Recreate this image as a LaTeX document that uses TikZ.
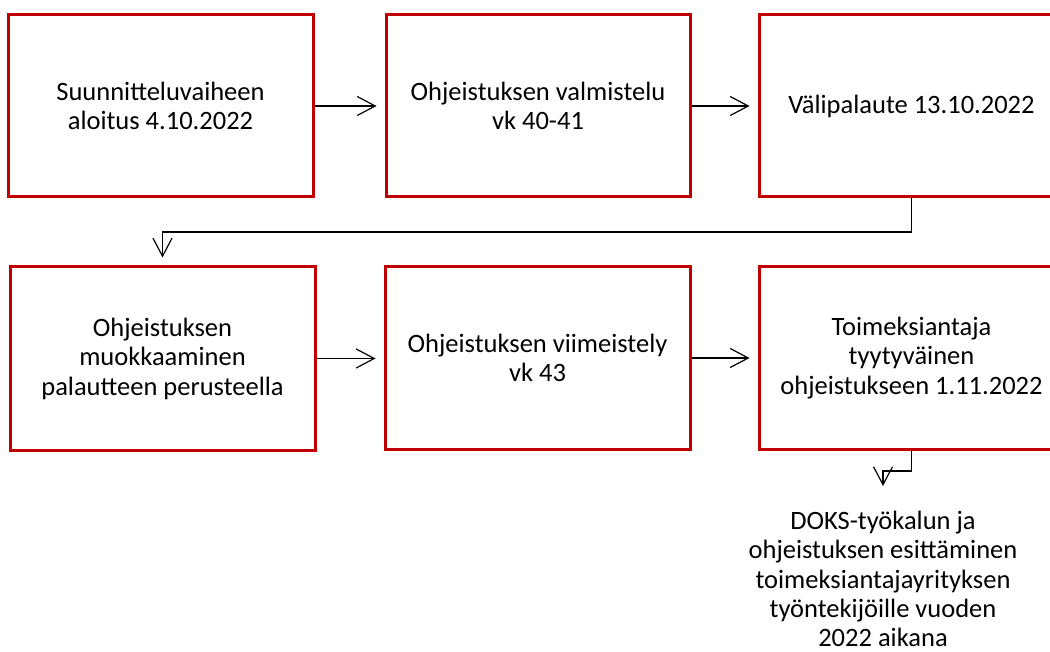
\documentclass[tikz,border=0pt]{standalone}
\usepackage{fontspec}
\setmainfont{Carlito}
\usetikzlibrary{arrows.meta}
\definecolor{boxred}{HTML}{C00000}
\tikzset{
  stepbox/.style={draw=boxred, line width=3pt, fill=white, rectangle, inner sep=0pt,
    minimum width=305pt, minimum height=182pt, align=center,
    font=\fontsize{26.5pt}{29.5pt}\selectfont},
  conn/.style={draw=black, line width=1.2pt, -{Straight Barb[length=18pt,width=19pt]}},
  plain/.style={align=center, inner sep=0pt, font=\fontsize{26.5pt}{29.3pt}\selectfont}
}
\begin{document}
\begin{tikzpicture}[x=1pt,y=-1pt]
\fill[white] (0,0) rectangle (1050,652);
\useasboundingbox (0,0) rectangle (1050,652);
\clip (0,0) rectangle (1050,652);
\node[stepbox] (b1) at (160.5,106) {Suunnitteluvaiheen\\aloitus 4.10.2022};
\node[stepbox, minimum width=304pt] (b2) at (538,106) {Ohjeistuksen valmistelu\\vk 40-41};
\node[stepbox] (b3) at (911.5,106) {Välipalaute 13.10.2022};
\node[stepbox, minimum height=183pt] (b4) at (162.5,358.5) {Ohjeistuksen\\muokkaaminen\\palautteen perusteella};
\node[stepbox] (b5) at (537.5,358) {Ohjeistuksen viimeistely\\vk 43};
\node[stepbox] (b6) at (911.5,358) {Toimeksiantaja\\tyytyväinen\\ohjeistukseen 1.11.2022};
\node[plain, anchor=north] (d) at (883,511) {DOKS-työkalun ja\\ohjeistuksen esittäminen\\toimeksiantajayrityksen\\työntekijöille vuoden\\2022 aikana};
\coordinate (h1) at (0,232);
\coordinate (h2) at (0,471);
\draw[conn, shorten >=8pt] (b1.east) -- (b2.west);
\draw[conn, shorten >=8pt] (b2.east) -- (b3.west);
\draw[conn, shorten >=8pt] (b4.east) -- (b5.west |- b4.east);
\draw[conn, shorten >=8pt] (b5.east) -- (b6.west |- b5.east);
\draw[conn, shorten >=8pt] (b3.south) |- (h1 -| b4.north) -- (b4.north);
\draw[conn, shorten >=25pt] (b6.south) |- (h2 -| d.north) -- (d.north);
\end{tikzpicture}
\end{document}
